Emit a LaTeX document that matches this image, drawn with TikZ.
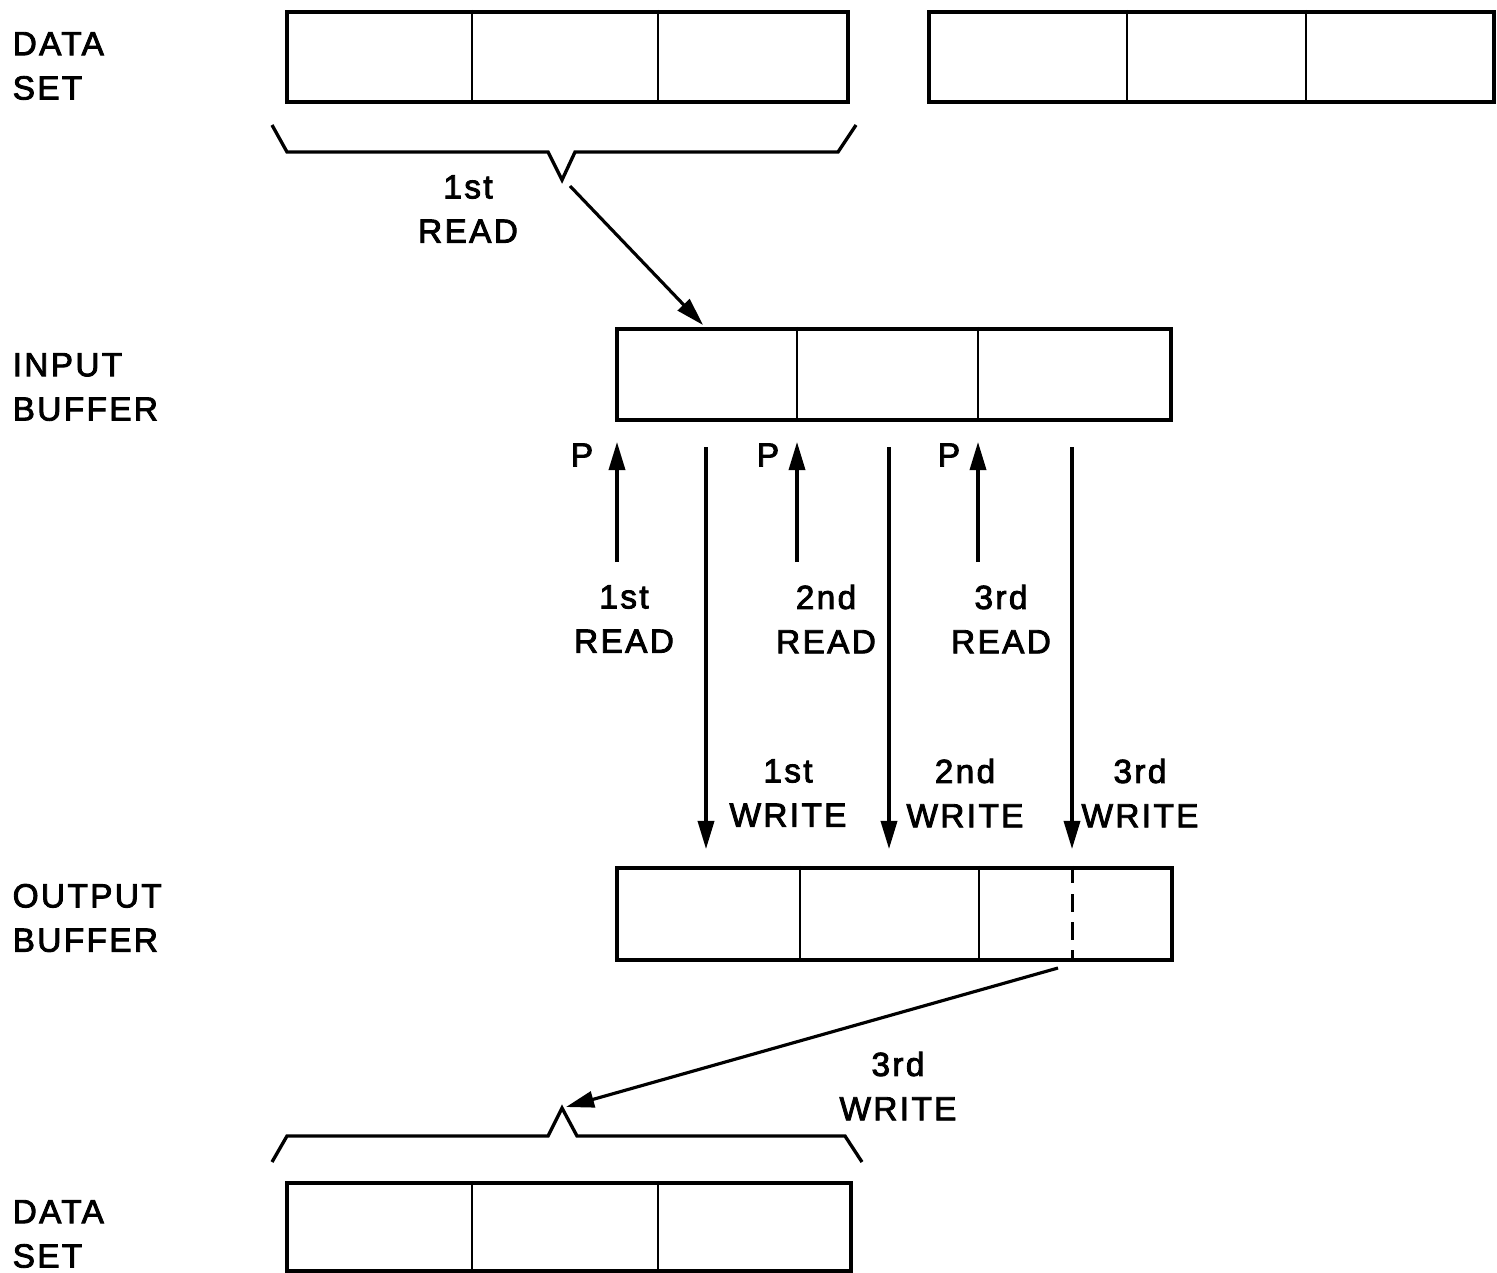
\documentclass[tikz,border=0pt]{standalone}
\usepackage{fontspec}
\setmainfont[LetterSpace=7,FakeBold=2.6]{Liberation Sans}
\usetikzlibrary{arrows.meta}
\begin{document}
\begin{tikzpicture}[x=0.01cm,y=-0.01cm,
  lbl/.style={font=\fontsize{9.5}{12.6}\selectfont, inner sep=0pt, align=center},
  side/.style={lbl, align=left, anchor=west},
  buf/.style={draw, line width=1.2pt, inner sep=0pt},
  divider/.style={line width=0.7pt},
  conn/.style={line width=0.9pt, -{Triangle[length=8pt,width=4.6pt]}},
  brace/.style={line width=0.95pt, line join=miter}]
\useasboundingbox (0,0) rectangle (1497,1273);

% boxes
\node[buf, minimum width=561*0.01cm, minimum height=90*0.01cm] (ds1) at (567.5,57) {};
\node[buf, minimum width=565*0.01cm, minimum height=90*0.01cm] (ds2) at (1211.5,57) {};
\node[buf, minimum width=554*0.01cm, minimum height=91*0.01cm] (ib) at (894,374.5) {};
\node[buf, minimum width=555*0.01cm, minimum height=92*0.01cm] (ob) at (894.5,914) {};
\node[buf, minimum width=564*0.01cm, minimum height=88*0.01cm] (ds3) at (569,1227) {};

% dividers
\foreach \n/\a/\b in {ds1/472/658, ds2/1127/1306, ib/797/978, ds3/472/658}{
  \draw[divider] (\a,0 |- \n.north) -- (\a,0 |- \n.south);
  \draw[divider] (\b,0 |- \n.north) -- (\b,0 |- \n.south);
}
\draw[divider] (800,0 |- ob.north) -- (800,0 |- ob.south);
\draw[divider] (979,0 |- ob.north) -- (979,0 |- ob.south);
\draw[line width=0.85pt, dash pattern=on 5pt off 3pt] (1072,0 |- ob.north) -- (1072,0 |- ob.south);

% side labels
\node[side] (l1) at (12,66) {DATA\\SET};
\node[side] (l2) at (12,387) {INPUT\\BUFFER};
\node[side] (l3) at (12,918) {OUTPUT\\BUFFER};
\node[side] (l4) at (12,1234) {DATA\\SET};

% top brace
\coordinate (b1tip) at (562,180);
\draw[brace] (272,125) -- (287,152) -- (548,152) -- (b1tip) -- (575,152) -- (838,152) -- (856,125);
% bottom brace
\coordinate (b2tip) at (562,1108);
\draw[brace] (272,1162) -- (287,1136) -- (548,1136) -- (b2tip) -- (577,1136) -- (845,1136) -- (862,1162);

% first read arrow
\coordinate (r0s) at (570,186);
\draw[conn] (r0s) -- (703,325);
\node[lbl] (r0l) at (468,209) {1st\\READ};

% P arrows (read pointers)
\foreach \x/\px/\n in {617/582/1, 797/768/2, 978/949/3}{
  \coordinate (ps\n) at (\x,562);
  \coordinate (pe\n) at (\x,442);
  \draw[conn] (ps\n) -- (pe\n);
  \node[lbl] (p\n) at (\px,455) {P};
}
\node[lbl] (rl1) at (624,619) {1st\\READ};
\node[lbl] (rl2) at (826,619) {2nd\\READ};
\node[lbl] (rl3) at (1001,619) {3rd\\READ};

% write arrows
\foreach \x/\n in {706/1, 889/2, 1072/3}{
  \coordinate (ws\n) at (\x,447);
  \coordinate (we\n) at (\x,849);
  \draw[conn] (ws\n) -- (we\n);
}
\node[lbl] (wl1) at (788,793) {1st\\WRITE};
\node[lbl] (wl2) at (965,793) {2nd\\WRITE};
\node[lbl] (wl3) at (1140,793) {3rd\\WRITE};

% final write arrow
\coordinate (fw) at (1058,968);
\draw[conn] (fw) -- (566,1107);
\node[lbl] (wl4) at (898,1086) {3rd\\WRITE};
\end{tikzpicture}
\end{document}
